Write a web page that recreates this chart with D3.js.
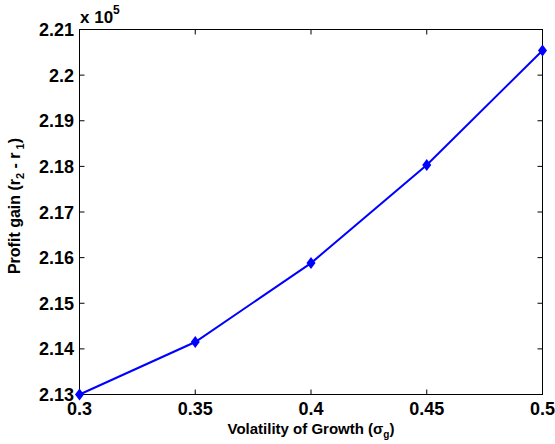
<!DOCTYPE html>
<html><head><meta charset="utf-8">
<script src="https://cdn.jsdelivr.net/npm/d3@7"></script>
<style>body{margin:0;background:#fff}svg{display:block}text{font-family:Arial,"Liberation Sans",sans-serif;font-weight:bold;fill:#000}</style>
</head><body><div id="c"></div>
<script>
const xVals = [0.3, 0.35, 0.4, 0.45, 0.5];
const yVals = [2.130, 2.1415, 2.1588, 2.1803, 2.2054];
const xTicks = [0.3, 0.35, 0.4, 0.45, 0.5];
const yTicks = [2.13, 2.14, 2.15, 2.16, 2.17, 2.18, 2.19, 2.2, 2.21];

const W = 555, H = 444;
const L = 79.5, R = 542.5, T = 29.5, B = 394.5;
const svg = d3.select("#c").append("svg").attr("width", W).attr("height", H);
const x = d3.scaleLinear().domain([0.3, 0.5]).range([L, R]);
const y = d3.scaleLinear().domain([2.13, 2.21]).range([B, T]);

const fmt = d => String(+d.toFixed(3));
const tl = 5;
const g = svg.append("g").attr("stroke", "#000").attr("stroke-width", 1);
xTicks.forEach(t => {
  g.append("line").attr("x1", x(t)).attr("x2", x(t)).attr("y1", B).attr("y2", B - tl);
  g.append("line").attr("x1", x(t)).attr("x2", x(t)).attr("y1", T).attr("y2", T + tl);
});
yTicks.forEach(t => {
  g.append("line").attr("x1", L).attr("x2", L + tl).attr("y1", y(t)).attr("y2", y(t));
  g.append("line").attr("x1", R).attr("x2", R - tl).attr("y1", y(t)).attr("y2", y(t));
});
g.append("rect").attr("x", L).attr("y", T).attr("width", R - L).attr("height", B - T).attr("fill", "none");

svg.selectAll(".xt").data(xTicks).enter().append("text")
  .attr("x", d => x(d)).attr("y", B + 20.5).attr("text-anchor", "middle")
  .style("font-size", "18px").text(fmt);
svg.selectAll(".yt").data(yTicks).enter().append("text")
  .attr("x", L - 5.5).attr("y", d => y(d) + 6.5).attr("text-anchor", "end")
  .style("font-size", "18px").text(fmt);

const ex = svg.append("text").attr("x", 80).attr("y", 23).style("font-size", "17px");
ex.append("tspan").text("x 10");
ex.append("tspan").attr("dy", -9).style("font-size", "12px").text("5");

const xl = svg.append("text").attr("x", (L + R) / 2).attr("y", 434).attr("text-anchor", "middle").style("font-size", "15px");
xl.append("tspan").text("Volatility of Growth (σ");
xl.append("tspan").attr("dy", 4).style("font-size", "10px").text("g");
xl.append("tspan").attr("dy", -4).text(")");

const yl = svg.append("text").attr("transform", `translate(20,206) rotate(-90)`).attr("text-anchor", "middle").style("font-size", "16px");
yl.append("tspan").text("Profit gain (r");
yl.append("tspan").attr("dy", 4).style("font-size", "11px").text("2");
yl.append("tspan").attr("dy", -4).text(" - r");
yl.append("tspan").attr("dy", 4).attr("dx", 3).style("font-size", "11px").text("1");
yl.append("tspan").attr("dy", -4).text(")");

const data = xVals.map((v, i) => [v, yVals[i]]);
svg.append("path").datum(data)
  .attr("d", d3.line().x(d => x(d[0])).y(d => y(d[1])))
  .attr("fill", "none").attr("stroke", "#0000ff").attr("stroke-width", 2);
svg.selectAll(".m").data(data).enter().append("path")
  .attr("transform", d => `translate(${x(d[0])},${y(d[1])})`)
  .attr("d", "M0,-6L4.5,0L0,6L-4.5,0Z").attr("fill", "#0000ff");
</script></body></html>
